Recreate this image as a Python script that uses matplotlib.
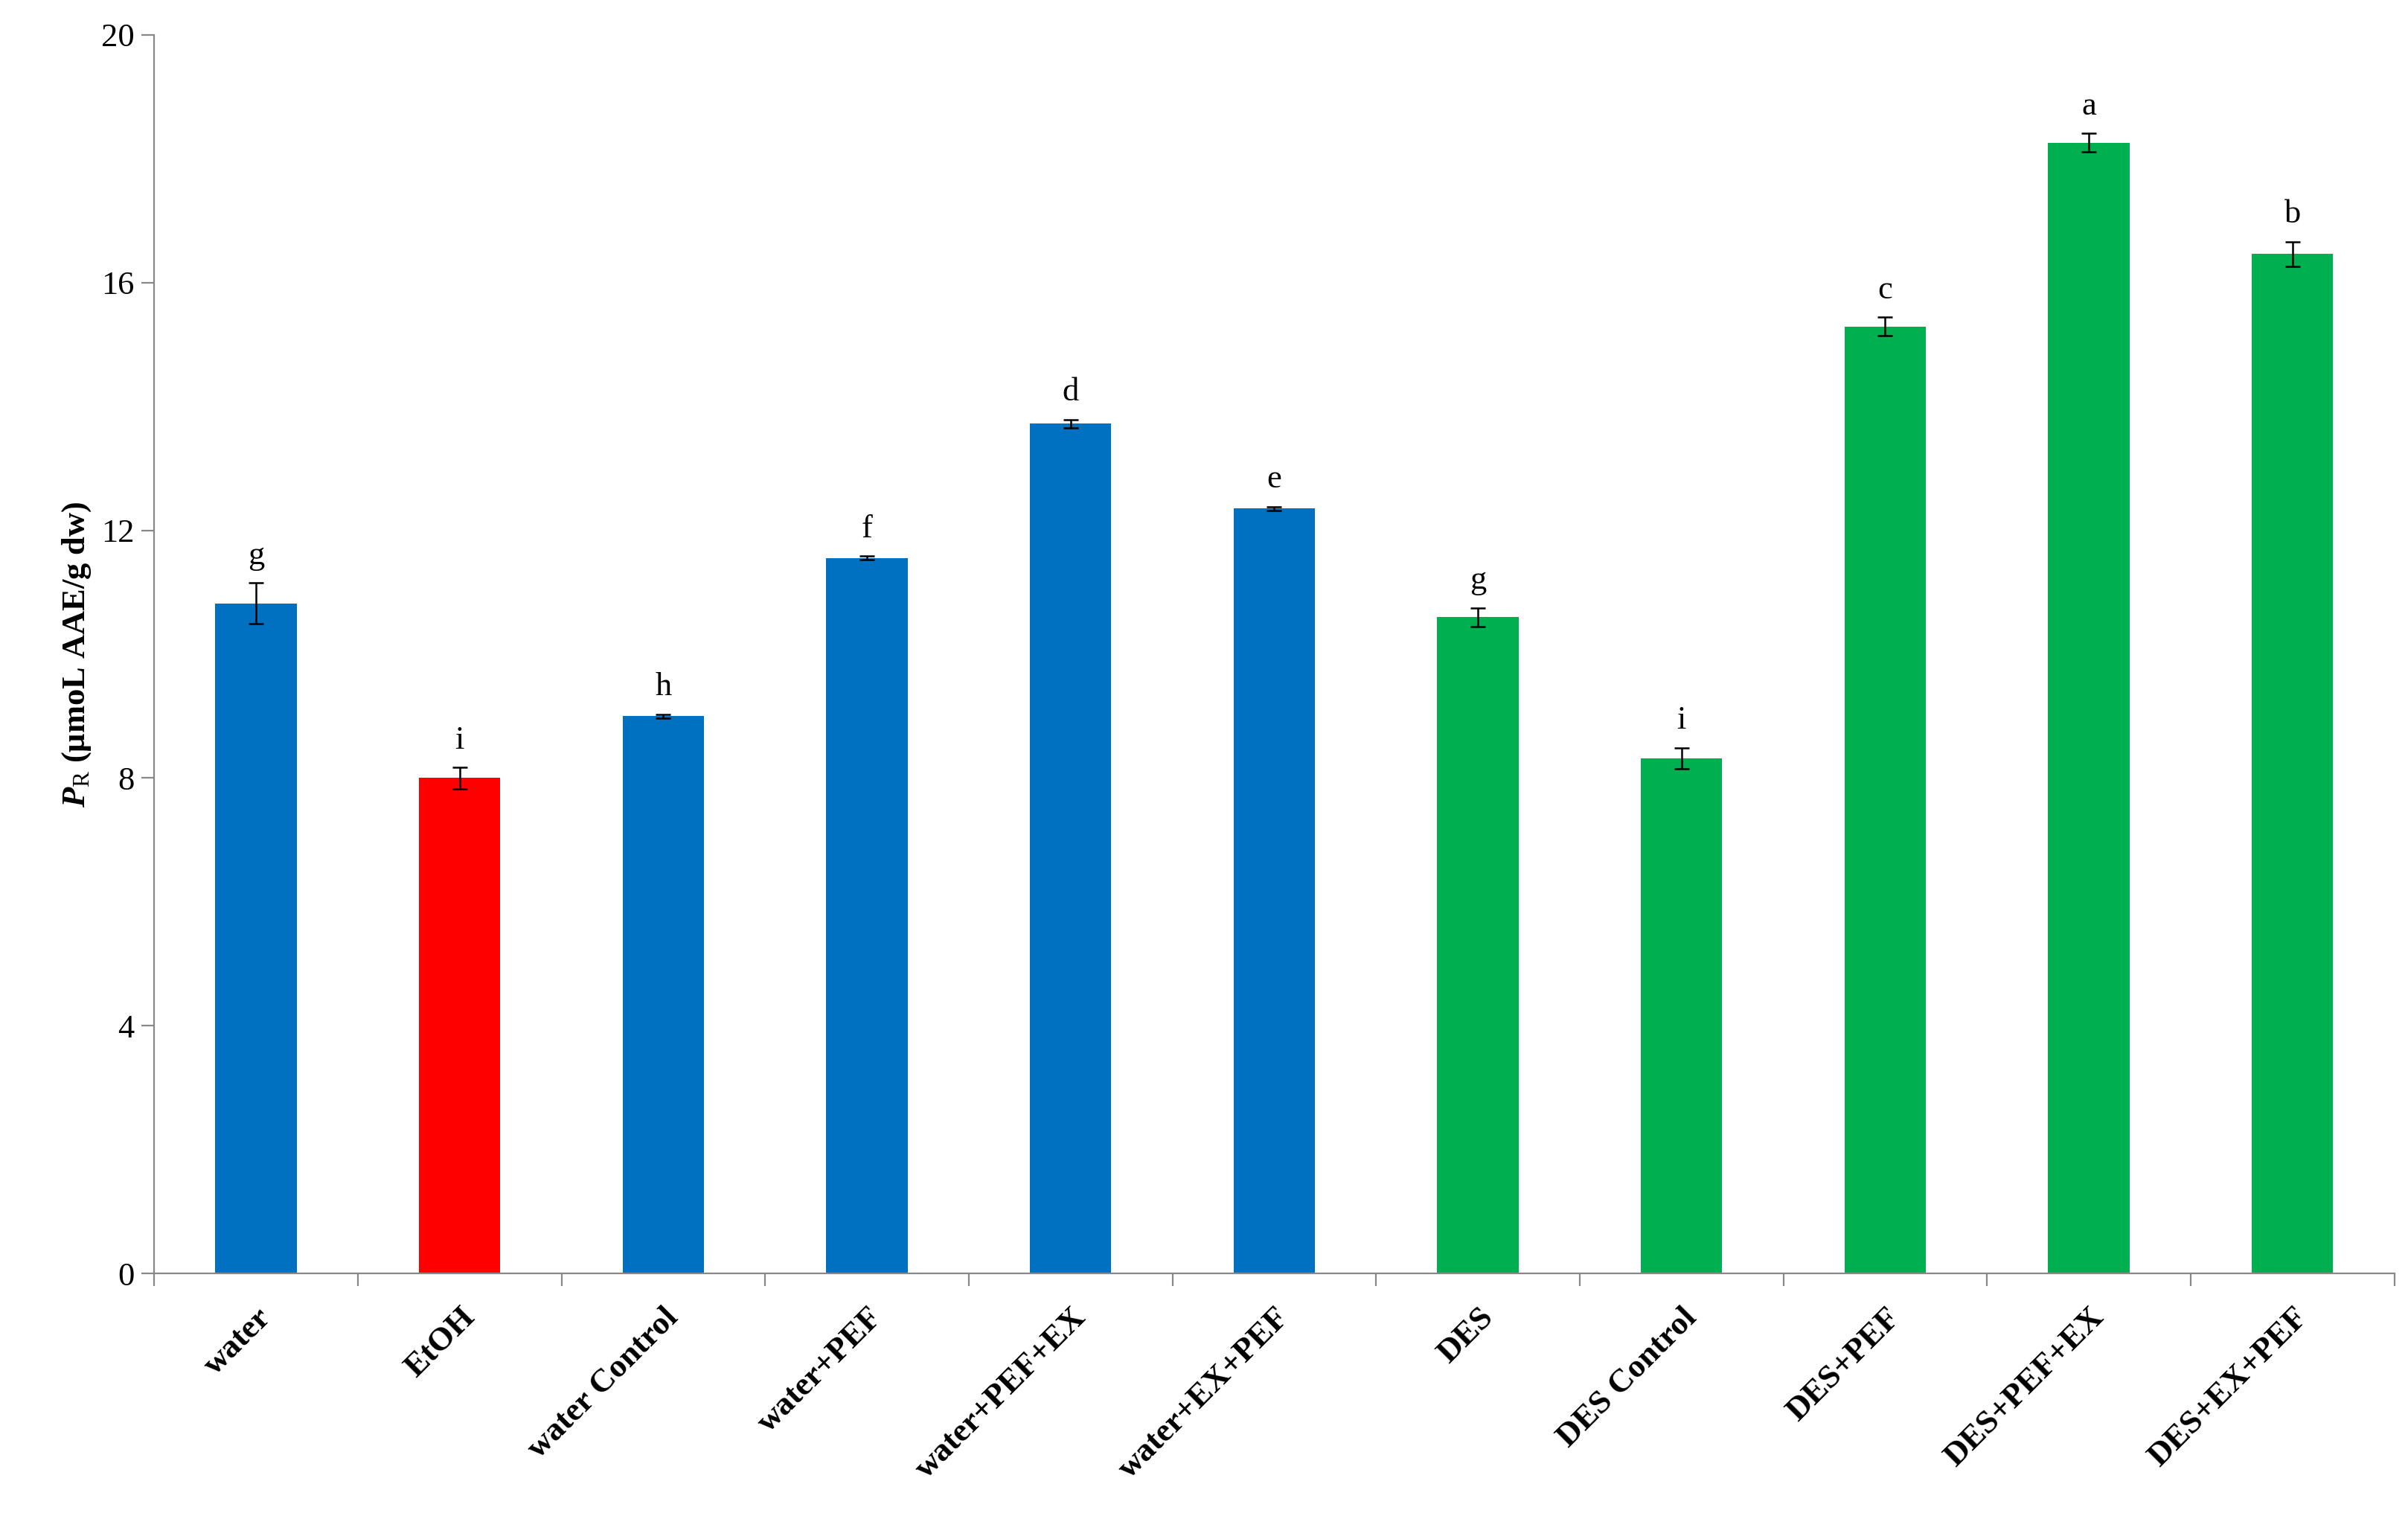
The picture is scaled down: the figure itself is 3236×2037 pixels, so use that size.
import matplotlib.pyplot as plt
import numpy as np

categories = ["water", "EtOH", "water Control", "water+PEF", "water+PEF+EX",
              "water+EX+PEF", "DES", "DES Control", "DES+PEF", "DES+PEF+EX",
              "DES+EX+PEF"]
values = [10.82, 8.0, 9.0, 11.55, 13.72, 12.35, 10.6, 8.32, 15.29, 18.26, 16.46]
errors = [0.33, 0.17, 0.03, 0.03, 0.07, 0.03, 0.15, 0.17, 0.15, 0.15, 0.2]
letters = ["g", "i", "h", "f", "d", "e", "g", "i", "c", "a", "b"]
groups = ["water", "etoh", "water", "water", "water", "water",
          "des", "des", "des", "des", "des"]

COLORS = {"water": "#0070C0", "etoh": "#FF0000", "des": "#00B050"}

plt.rcParams.update({
    "font.family": ["Liberation Serif", "DejaVu Serif"],
    "font.size": 16,
    "mathtext.fontset": "custom",
    "mathtext.rm": "Liberation Serif",
    "mathtext.it": "Liberation Serif:italic:bold",
    "mathtext.bf": "Liberation Serif:bold",
})

fig = plt.figure(figsize=(16.185, 10.185), dpi=200)
ax = fig.add_axes([0.064, 0.160, 0.930, 0.817])

x = np.arange(len(categories))
ax.bar(x, values, width=0.4, color=[COLORS[g] for g in groups], zorder=2)
ax.errorbar(x, values, yerr=errors, fmt="none", ecolor="black",
            elinewidth=0.9, capsize=3.5, capthick=0.9, zorder=3)
for xi, v, e, lab in zip(x, values, errors, letters):
    ax.text(xi, v + e + 0.2, lab, ha="center", va="bottom", fontsize=16)

ax.set_xlim(-0.5, len(categories) - 0.5)
ax.set_ylim(0, 20)
ax.set_yticks([0, 4, 8, 12, 16, 20])
ax.tick_params(axis="y", direction="out", length=6, width=0.8, labelsize=16)

ax.set_xticks(x)
ax.set_xticklabels(categories, rotation=45, ha="right", rotation_mode="anchor",
                   fontweight="bold", fontsize=16)
ax.tick_params(axis="x", length=0, pad=14)
ax.set_xticks(np.arange(-0.5, len(categories) + 0.5, 1), minor=True)
ax.tick_params(axis="x", which="minor", direction="out", length=6, width=0.8)

for s in ("top", "right"):
    ax.spines[s].set_visible(False)
for s in ("left", "bottom"):
    ax.spines[s].set_color("#888888")
    ax.spines[s].set_linewidth(0.8)
ax.tick_params(axis="both", which="both", color="#888888")

ax.set_ylabel(r"$\mathit{P}_{\mathrm{R}}$ (μmoL AAE/g dw)", fontweight="bold",
              fontsize=16)

fig.savefig("out.png")
